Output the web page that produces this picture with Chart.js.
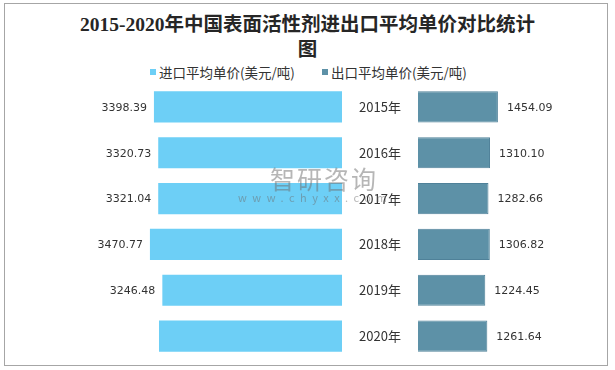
<!DOCTYPE html>
<html>
<head>
<meta charset="utf-8">
<script src="https://cdn.jsdelivr.net/npm/chart.js@4.4.1/dist/chart.umd.min.js"></script>
<style>
  html, body { margin: 0; padding: 0; background: #fff; }
  #wrap { position: relative; width: 615px; height: 370px; overflow: hidden; }
  #frame { position: absolute; left: 4px; top: 3px; width: 602px; height: 361px; border: 1px solid #a6a6a6; }
  .title { position: absolute; left: 0; width: 615px; text-align: center; font-family: "Liberation Serif", "Noto Sans CJK SC", serif; font-weight: bold; font-size: 19.5px; color: #262626; line-height: 24px; }
  .legend { position: absolute; top: 63px; font-family: "Noto Sans CJK SC", sans-serif; font-size: 13.5px; color: #333; line-height: 18px; white-space: nowrap; }
  .legend i { display: inline-block; width: 6px; height: 6px; margin-right: 3px; vertical-align: 3px; }
  #left { position: absolute; left: 0; top: 84px; width: 342px; height: 275px; }
  #right { position: absolute; left: 342px; top: 84px; width: 273px; height: 275px; }
  .wm { position: absolute; color: rgba(110,110,110,0.5); font-family: "Noto Sans CJK SC", sans-serif; white-space: nowrap; pointer-events: none; }
</style>
</head>
<body>
<div id="wrap">
  <div id="frame"></div>
  <div class="title" style="top:13px;">2015-2020年中国表面活性剂进出口平均单价对比统计</div>
  <div class="title" style="top:38px;">图</div>
  <div class="legend" style="left:150px;"><i style="background:#6dcff6"></i>进口平均单价(美元/吨)</div>
  <div class="legend" style="left:322px;"><i style="background:#5d91a7"></i>出口平均单价(美元/吨)</div>
  <div id="left"><canvas id="c1"></canvas></div>
  <div id="right"><canvas id="c2"></canvas></div>
  <div class="wm" style="left:270px; top:160px; font-size:25px; letter-spacing:2px;">智研咨询</div>
  <div class="wm" style="left:238px; top:189px; font-size:11px; letter-spacing:5.5px;">www.chyxx.com</div>
</div>
<script>
const categories = ['2015年', '2016年', '2017年', '2018年', '2019年', '2020年'];
const importPrice = [3398.39, 3320.73, 3321.04, 3470.77, 3246.48, 3307];
const importLabels = ['3398.39', '3320.73', '3321.04', '3470.77', '3246.48', ''];
const exportPrice = [1454.09, 1310.10, 1282.66, 1306.82, 1224.45, 1261.64];
const exportLabels = ['1454.09', '1310.10', '1282.66', '1306.82', '1224.45', '1261.64'];

function labelPlugin(texts, side) {
  return {
    id: 'vlabels_' + side,
    afterDatasetsDraw(chart) {
      const ctx = chart.ctx;
      const meta = chart.getDatasetMeta(0);
      const yScale = chart.scales.y;
      ctx.save();
      ctx.font = '11px "DejaVu Sans", sans-serif';
      ctx.fillStyle = '#333';
      ctx.textBaseline = 'middle';
      meta.data.forEach((bar, i) => {
        const t = texts[i];
        if (t) {
          if (side === 'left') {
            ctx.textAlign = 'right';
            ctx.fillText(t, bar.x - 7, bar.y + 1);
          } else {
            ctx.textAlign = 'left';
            ctx.fillText(t, bar.x + 9, bar.y + 1);
          }
        }
      });
      if (side === 'right') {
        ctx.font = '13px "Noto Sans CJK SC", sans-serif';
        ctx.textAlign = 'center';
        const cx = chart.chartArea.left / 2;
        chart.data.labels.forEach((lab, i) => {
          ctx.fillText(lab, cx, yScale.getPixelForValue(i));
        });
      }
      ctx.restore();
    }
  };
}

const common = {
  indexAxis: 'y',
  responsive: true,
  maintainAspectRatio: false,
  animation: false,
  plugins: { legend: { display: false }, title: { display: false }, tooltip: { enabled: false } }
};

new Chart(document.getElementById('c1'), {
  type: 'bar',
  data: {
    labels: categories,
    datasets: [{
      data: importPrice,
      backgroundColor: '#6dcff6',
      borderWidth: 0,
      categoryPercentage: 1,
      barPercentage: 0.68
    }]
  },
  options: Object.assign({}, common, {
    layout: { padding: 0 },
    scales: {
      x: { display: false, reverse: true, min: 0, max: 6180 },
      y: { display: false }
    }
  }),
  plugins: [labelPlugin(importLabels, 'left')]
});

new Chart(document.getElementById('c2'), {
  type: 'bar',
  data: {
    labels: categories,
    datasets: [{
      data: exportPrice,
      backgroundColor: '#5d91a7',
      borderColor: '#4f8199',
      borderWidth: 1,
      categoryPercentage: 1,
      barPercentage: 0.68
    }]
  },
  options: Object.assign({}, common, {
    layout: { padding: { left: 76, right: 0, top: 0, bottom: 0 } },
    scales: {
      x: { display: false, min: 0, max: 3585 },
      y: { display: false }
    }
  }),
  plugins: [labelPlugin(exportLabels, 'right')]
});
</script>
</body>
</html>
